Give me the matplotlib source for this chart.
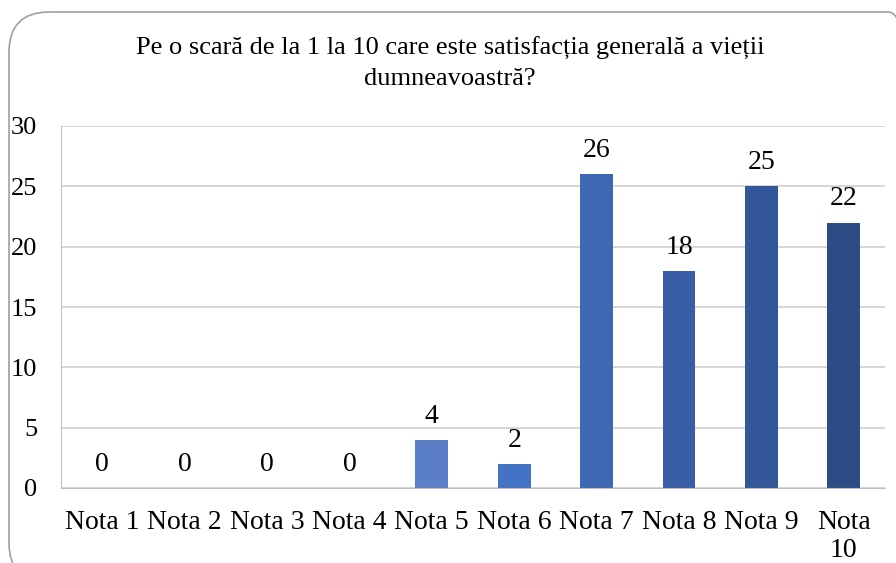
import matplotlib.pyplot as plt
from matplotlib.patches import FancyBboxPatch

categories = ['Nota 1', 'Nota 2', 'Nota 3', 'Nota 4', 'Nota 5',
              'Nota 6', 'Nota 7', 'Nota 8', 'Nota 9', 'Nota\n10']
values = [0, 0, 0, 0, 4, 2, 26, 18, 25, 22]
colors = ['#7A9AD6', '#7092D2', '#6689CE', '#5F83CB', '#5B7FC7',
          '#4472C4', '#3E68B4', '#395EA6', '#34579A', '#2D4B85']
title = 'Pe o scară de la 1 la 10 care este satisfacția generală a vieții\ndumneavoastră?'

plt.rcParams['font.family'] = ['Liberation Serif', 'DejaVu Serif']

fig = plt.figure(figsize=(8.96, 5.63), dpi=100)
ax = fig.add_axes([61 / 896, 1 - 488 / 563, (885 - 61) / 896, (488 - 126) / 563])

x = range(len(categories))
bars = ax.bar(x, values, width=0.4, color=colors)
for b, v in zip(bars, values):
    ax.annotate(str(v), (b.get_x() + b.get_width() / 2, v), xytext=(0, 8),
                textcoords='offset points', ha='center', va='bottom', fontsize=20)

ax.set_xlim(-0.5, len(categories) - 0.5)
ax.set_ylim(0, 30)
ax.set_yticks(range(0, 31, 5))
ax.set_xticks(list(x))
ax.set_xticklabels(categories, fontsize=20, linespacing=1.12)
ax.tick_params(axis='y', labelsize=19, length=0, pad=17)
ax.tick_params(axis='x', length=0, pad=16)
ax.yaxis.grid(True, color='#D0D0D0', linewidth=1.2)
ax.set_axisbelow(True)
for s in ['top', 'right']:
    ax.spines[s].set_visible(False)
ax.spines['left'].set_color('#BFBFBF')
ax.spines['bottom'].set_color('#BFBFBF')

fig.text(450 / 896, 1 - 63.5 / 563, title, ha='center', va='center',
         fontsize=19, linespacing=1.45)

box = FancyBboxPatch((9 / 896, -20 / 563), 920 / 896, 571 / 563,
                     boxstyle='round,pad=0,rounding_size=0.045',
                     transform=fig.transFigure, fill=False,
                     edgecolor='#A0A0A0', linewidth=1.2, mutation_aspect=896 / 563)
fig.add_artist(box)

fig.savefig('out.png', dpi=100)
